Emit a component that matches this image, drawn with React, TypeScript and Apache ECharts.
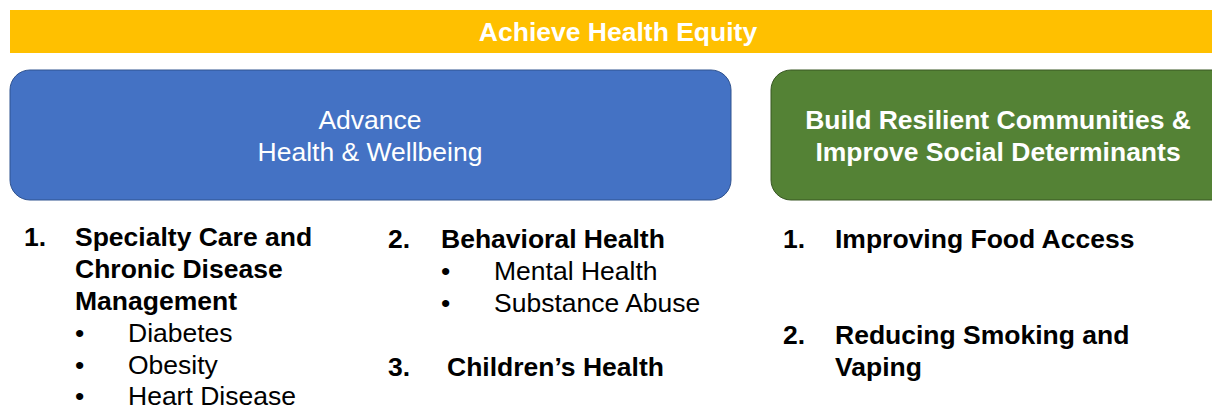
import React, { useEffect, useRef } from "react";
import * as echarts from "echarts";

const bannerTitle = "Achieve Health Equity";
const pillarLeft = ["Advance", "Health & Wellbeing"];
const pillarRight = ["Build Resilient Communities &", "Improve Social Determinants"];

const col1Title = ["Specialty Care and", "Chronic Disease", "Management"];
const col1Items = ["Diabetes", "Obesity", "Heart Disease"];
const col2Title = ["Behavioral Health"];
const col2Items = ["Mental Health", "Substance Abuse"];
const col2Title3 = ["Children\u2019s Health"];
const col3Title1 = ["Improving Food Access"];
const col3Title2 = ["Reducing Smoking and", "Vaping"];

const FONT = "'Liberation Sans', Arial, sans-serif";
const FS = 26.5;
const LH = 32;

function txt(x: number, y: number, text: string, opts: any = {}) {
  return {
    type: "text",
    x,
    y,
    style: {
      text,
      fill: opts.fill || "#000",
      font: `${opts.bold ? "bold " : ""}${opts.size || FS}px ${FONT}`,
      textAlign: opts.align || "left",
      textVerticalAlign: "middle",
    },
  };
}

export default function App() {
  const ref = useRef<HTMLDivElement>(null);
  useEffect(() => {
    const chart = echarts.init(ref.current!, null, { renderer: "svg" });
    const els: any[] = [];
    // banner
    els.push({ type: "rect", shape: { x: 10, y: 10, width: 1210, height: 43 }, style: { fill: "#FFC000" } });
    els.push(txt(618, 32, bannerTitle, { bold: true, fill: "#fff", align: "center" }));
    // left pillar
    els.push({
      type: "rect",
      shape: { x: 10, y: 70, width: 721, height: 130, r: 20 },
      style: { fill: "#4472C4", stroke: "#2F528F", lineWidth: 1 },
    });
    pillarLeft.forEach((t, i) => els.push(txt(370, 120 + i * LH, t, { fill: "#fff", align: "center" })));
    // right pillar
    els.push({
      type: "rect",
      shape: { x: 771, y: 70, width: 470, height: 130, r: 20 },
      style: { fill: "#548235", stroke: "#385723", lineWidth: 1 },
    });
    pillarRight.forEach((t, i) => els.push(txt(998, 120 + i * LH, t, { bold: true, fill: "#fff", align: "center" })));

    // column 1
    els.push(txt(24, 237, "1.", { bold: true }));
    col1Title.forEach((t, i) => els.push(txt(75, 237 + i * LH, t, { bold: true })));
    col1Items.forEach((t, i) => {
      const y = 333 + i * 31.5;
      els.push(txt(75, y, "\u2022", {}));
      els.push(txt(128, y, t, {}));
    });

    // column 2
    els.push(txt(388, 239, "2.", { bold: true }));
    col2Title.forEach((t, i) => els.push(txt(441, 239 + i * LH, t, { bold: true })));
    col2Items.forEach((t, i) => {
      const y = 271 + i * LH;
      els.push(txt(441, y, "\u2022", {}));
      els.push(txt(494, y, t, {}));
    });
    els.push(txt(388, 367, "3.", { bold: true }));
    col2Title3.forEach((t, i) => els.push(txt(447, 367 + i * LH, t, { bold: true })));

    // column 3
    els.push(txt(783, 239, "1.", { bold: true }));
    col3Title1.forEach((t, i) => els.push(txt(835, 239 + i * LH, t, { bold: true })));
    els.push(txt(783, 335, "2.", { bold: true }));
    col3Title2.forEach((t, i) => els.push(txt(835, 335 + i * LH, t, { bold: true })));

    chart.setOption({ animation: false, graphic: { elements: els } });
    return () => chart.dispose();
  }, []);
  return (
    <div
      ref={ref}
      style={{ position: "fixed", left: 0, top: 0, width: 1212, height: 407, background: "#fff" }}
    />
  );
}
